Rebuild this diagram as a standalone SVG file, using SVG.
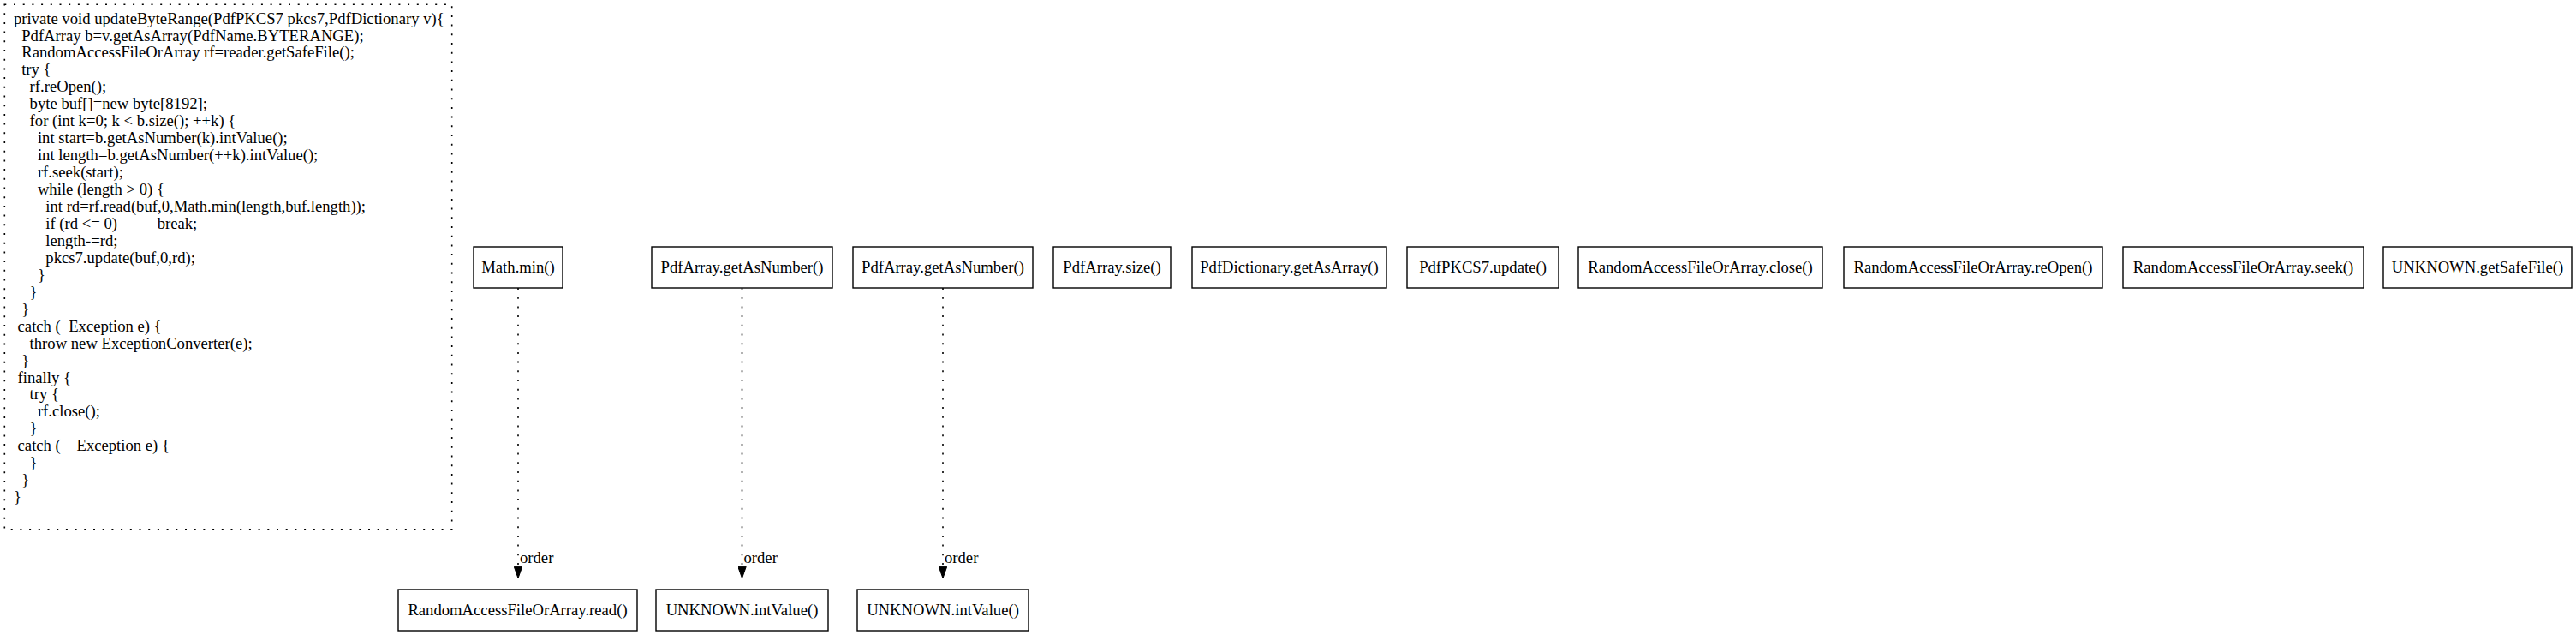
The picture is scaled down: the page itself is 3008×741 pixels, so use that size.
<svg xmlns="http://www.w3.org/2000/svg" width="3008" height="741" viewBox="0 0 3008 741">
<style>
text{font-family:"Liberation Serif","Times New Roman",serif;font-size:18.67px;fill:#000}
.code text{white-space:pre}
.box{fill:#fff;stroke:#000;stroke-width:1.4}
.dot{fill:none;stroke:#000;stroke-width:1.6;stroke-dasharray:2,8.7}
.nl{text-anchor:middle}
</style>
<defs>
<marker id="arr" markerWidth="14" markerHeight="10" refX="13.3" refY="5" orient="auto" markerUnits="userSpaceOnUse">
<path d="M0,0.3 L13.3,5 L0,9.7 Z" fill="#000" stroke="#000" stroke-width="1"/>
</marker>
</defs>
<rect width="3008" height="741" fill="#fff"/>
<g id="code" class="code">
<rect x="5.3" y="5.3" width="522.4" height="612.4" class="dot"/>
<text xml:space="preserve" x="15.9" y="27.5">private void updateByteRange(PdfPKCS7 pkcs7,PdfDictionary v){</text>
<text xml:space="preserve" x="25.2" y="47.5">PdfArray b=v.getAsArray(PdfName.BYTERANGE);</text>
<text xml:space="preserve" x="25.2" y="67.4">RandomAccessFileOrArray rf=reader.getSafeFile();</text>
<text xml:space="preserve" x="25.2" y="87.4">try {</text>
<text xml:space="preserve" x="34.6" y="107.3">rf.reOpen();</text>
<text xml:space="preserve" x="34.6" y="127.3">byte buf[]=new byte[8192];</text>
<text xml:space="preserve" x="34.6" y="147.2">for (int k=0; k &lt; b.size(); ++k) {</text>
<text xml:space="preserve" x="43.9" y="167.2">int start=b.getAsNumber(k).intValue();</text>
<text xml:space="preserve" x="43.9" y="187.1">int length=b.getAsNumber(++k).intValue();</text>
<text xml:space="preserve" x="43.9" y="207.1">rf.seek(start);</text>
<text xml:space="preserve" x="43.9" y="227.0">while (length &gt; 0) {</text>
<text xml:space="preserve" x="53.3" y="247.0">int rd=rf.read(buf,0,Math.min(length,buf.length));</text>
<text xml:space="preserve" x="53.3" y="266.9">if (rd &lt;= 0)          break;</text>
<text xml:space="preserve" x="53.3" y="286.9">length-=rd;</text>
<text xml:space="preserve" x="53.3" y="306.8">pkcs7.update(buf,0,rd);</text>
<text xml:space="preserve" x="43.9" y="326.8">}</text>
<text xml:space="preserve" x="34.6" y="346.7">}</text>
<text xml:space="preserve" x="25.2" y="366.7">}</text>
<text xml:space="preserve" x="20.6" y="386.6">catch (  Exception e) {</text>
<text xml:space="preserve" x="34.6" y="406.6">throw new ExceptionConverter(e);</text>
<text xml:space="preserve" x="25.2" y="426.5">}</text>
<text xml:space="preserve" x="20.6" y="446.5">finally {</text>
<text xml:space="preserve" x="34.6" y="466.4">try {</text>
<text xml:space="preserve" x="43.9" y="486.4">rf.close();</text>
<text xml:space="preserve" x="34.6" y="506.3">}</text>
<text xml:space="preserve" x="20.6" y="526.3">catch (    Exception e) {</text>
<text xml:space="preserve" x="34.6" y="546.2">}</text>
<text xml:space="preserve" x="25.2" y="566.2">}</text>
<text xml:space="preserve" x="15.9" y="586.1">}</text>
</g>
<g id="n_mathmin"><rect class="box" x="553" y="288" width="104" height="48"/><text class="nl" x="605" y="318">Math.min()</text></g>
<g id="n_getAsNumber1"><rect class="box" x="761" y="288" width="211" height="48"/><text class="nl" x="866.5" y="318">PdfArray.getAsNumber()</text></g>
<g id="n_getAsNumber2"><rect class="box" x="996" y="288" width="210" height="48"/><text class="nl" x="1101" y="318">PdfArray.getAsNumber()</text></g>
<g id="n_size"><rect class="box" x="1230" y="288" width="137" height="48"/><text class="nl" x="1298.5" y="318">PdfArray.size()</text></g>
<g id="n_getAsArray"><rect class="box" x="1392" y="288" width="227" height="48"/><text class="nl" x="1505.5" y="318">PdfDictionary.getAsArray()</text></g>
<g id="n_update"><rect class="box" x="1643" y="288" width="177" height="48"/><text class="nl" x="1731.5" y="318">PdfPKCS7.update()</text></g>
<g id="n_close"><rect class="box" x="1843" y="288" width="285" height="48"/><text class="nl" x="1985.5" y="318">RandomAccessFileOrArray.close()</text></g>
<g id="n_reOpen"><rect class="box" x="2153" y="288" width="302" height="48"/><text class="nl" x="2304" y="318">RandomAccessFileOrArray.reOpen()</text></g>
<g id="n_seek"><rect class="box" x="2479" y="288" width="281" height="48"/><text class="nl" x="2619.5" y="318">RandomAccessFileOrArray.seek()</text></g>
<g id="n_getSafeFile"><rect class="box" x="2783" y="288" width="220" height="48"/><text class="nl" x="2893" y="318">UNKNOWN.getSafeFile()</text></g>
<g id="n_read"><rect class="box" x="465" y="688" width="279" height="48"/><text class="nl" x="604.5" y="718">RandomAccessFileOrArray.read()</text></g>
<g id="n_intValue1"><rect class="box" x="766" y="688" width="201" height="48"/><text class="nl" x="866.5" y="718">UNKNOWN.intValue()</text></g>
<g id="n_intValue2"><rect class="box" x="1001" y="688" width="200" height="48"/><text class="nl" x="1101" y="718">UNKNOWN.intValue()</text></g>
<g id="edges">
<line class="dot" x1="605" y1="336" x2="605" y2="674.7" marker-end="url(#arr)"/>
<text x="607" y="657">order</text>
<line class="dot" x1="866.5" y1="336" x2="866.5" y2="674.7" marker-end="url(#arr)"/>
<text x="868.5" y="657">order</text>
<line class="dot" x1="1101" y1="336" x2="1101" y2="674.7" marker-end="url(#arr)"/>
<text x="1103" y="657">order</text>
</g>
</svg>
